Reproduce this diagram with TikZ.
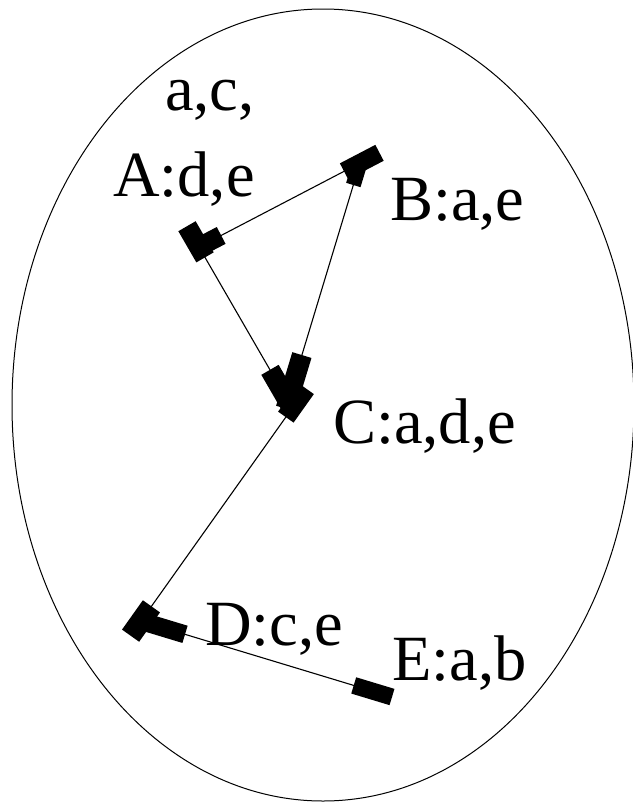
\documentclass[tikz,border=0pt]{standalone}
\usepackage{fontspec}
\setmainfont{Liberation Serif}
\usetikzlibrary{calc}
\begin{document}
\begin{tikzpicture}[x=1pt,y=-1pt,
  lbl/.style={anchor=base west, inner sep=0pt, font=\fontsize{64.5}{64.5}\selectfont},
  edge/.style={line width=1.1pt},
  blk/.style={line width=#1, line cap=butt}]
\useasboundingbox (0,0) rectangle (632,803);
\draw[line width=1pt] (323,405) ellipse [x radius=311pt, y radius=396pt];
\coordinate (A) at (199,247);
\coordinate (B) at (360,163);
\coordinate (C) at (288,401);
\coordinate (Cd) at (298,400);
\coordinate (D) at (141,621);
\coordinate (E) at (392,697);
\draw[edge] (A) -- (B);
\draw[edge] (A) -- (C);
\draw[edge] (B) -- (C);
\draw[edge] (Cd) -- (D);
\draw[edge] (D) -- (E);
\draw[blk=20pt] ($(A)!-24pt!(C)$) -- ($(A)!12pt!(C)$);
\draw[blk=19pt] (A) -- ($(A)!25pt!(B)$);
\draw[blk=18pt] ($(B)!18pt!(A)$) -- ($(B)!-22pt!(A)$);
\draw[blk=15pt] ($(B)!-3pt!(C)$) -- ($(B)!23pt!(C)$);
\draw[blk=20pt] ($(C)!36pt!(A)$) -- ($(C)!-8pt!(A)$);
\draw[blk=20pt] ($(C)!48pt!(B)$) -- ($(C)!-8pt!(B)$);
\draw[blk=19pt] ($(Cd)!21pt!(D)$) -- ($(Cd)!-14pt!(D)$);
\draw[blk=21pt] ($(D)!18pt!(Cd)$) -- ($(D)!-18pt!(Cd)$);
\draw[blk=18pt] ($(D)!4pt!(E)$) -- ($(D)!46pt!(E)$);
\draw[blk=17pt] (E) -- ($(E)!40pt!(D)$);
\node[lbl] (lac) at (165,110) {a,c,};
\node[lbl] (lA) at (113,196) {A:d,e};
\node[lbl] (lB) at (390,220) {B:a,e};
\node[lbl] (lC) at (333,443) {C:a,d,e};
\node[lbl] (lD) at (205,645) {D:c,e};
\node[lbl] (lE) at (392,680) {E:a,b};
\end{tikzpicture}
\end{document}
